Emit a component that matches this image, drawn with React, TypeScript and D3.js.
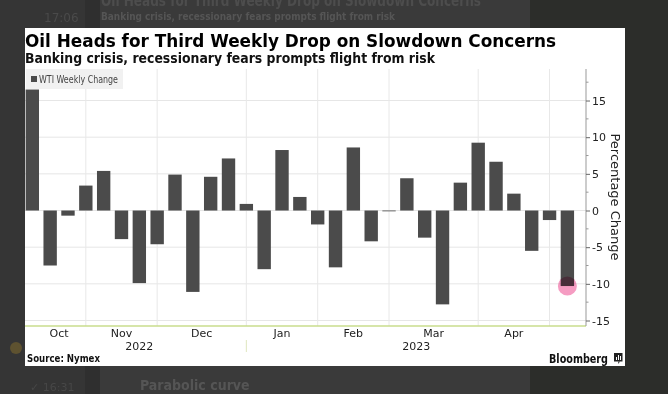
import React, { useEffect, useRef } from 'react';
import * as d3 from 'd3';

// WTI weekly % change, week ending Fridays, Oct 7 2022 .. May 5 2023
const weekEnding = [
  '2022-10-07', '2022-10-14', '2022-10-21', '2022-10-28',
  '2022-11-04', '2022-11-11', '2022-11-18', '2022-11-25',
  '2022-12-02', '2022-12-09', '2022-12-16', '2022-12-23', '2022-12-30',
  '2023-01-06', '2023-01-13', '2023-01-20', '2023-01-27',
  '2023-02-03', '2023-02-10', '2023-02-17', '2023-02-24',
  '2023-03-03', '2023-03-10', '2023-03-17', '2023-03-24', '2023-03-31',
  '2023-04-07', '2023-04-14', '2023-04-21', '2023-04-28',
  '2023-05-05',
];
const weeklyChange = [
  16.5, -7.5, -0.7, 3.4,
  5.4, -3.9, -9.9, -4.6,
  4.9, -11.1, 4.6, 7.1, 0.9,
  -8.0, 8.25, 1.85, -1.9,
  -7.75, 8.6, -4.2, -0.1,
  4.4, -3.7, -12.8, 3.8, 9.25,
  6.65, 2.3, -5.5, -1.3,
  -10.3,
];
const monthStarts = ['2022-11-01', '2022-12-01', '2023-01-01', '2023-02-01', '2023-03-01', '2023-04-01', '2023-05-01'];
const monthNames = ['Oct', 'Nov', 'Dec', 'Jan', 'Feb', 'Mar', 'Apr', 'May'];
const years = ['2022', '2023'];
const yTicks = [-15, -10, -5, 0, 5, 10, 15];

const title = 'Oil Heads for Third Weekly Drop on Slowdown Concerns';
const subtitle = 'Banking crisis, recessionary fears prompts flight from risk';

const App = () => {
  const svgRef = useRef<SVGSVGElement>(null);

  useEffect(() => {
    if (!svgRef.current) return;
    const svg = d3.select(svgRef.current);
    svg.selectAll('*').remove();

    const width = 668;
    const height = 394;
    const font = "'DejaVu Sans', Verdana, sans-serif";
    const condensed = "'DejaVu Sans Condensed', 'DejaVu Sans', sans-serif";

    // --- photographed screen around the chart ---
    svg.append('rect').attr('width', width).attr('height', height).attr('fill', '#353535');
    svg.append('rect').attr('x', 85).attr('width', 15).attr('height', height).attr('fill', '#2f2f2f');
    svg.append('rect').attr('x', 100).attr('width', 430).attr('height', height).attr('fill', '#3a3a3a');
    svg.append('rect').attr('x', 530).attr('width', 138).attr('height', height).attr('fill', '#2c2d2a');
    svg.append('text').attr('x', 101).attr('y', 6).attr('font-family', condensed).attr('font-weight', 'bold')
      .attr('font-size', 16).attr('fill', '#4d4d4d').attr('textLength', 380).attr('lengthAdjust', 'spacingAndGlyphs')
      .text(title);
    svg.append('text').attr('x', 101).attr('y', 20).attr('font-family', condensed).attr('font-weight', 'bold')
      .attr('font-size', 11).attr('fill', '#555').attr('textLength', 294).attr('lengthAdjust', 'spacingAndGlyphs')
      .text(subtitle);
    svg.append('text').attr('x', 44).attr('y', 22).attr('font-family', font).attr('font-size', 12)
      .attr('fill', '#4a4a4a').text('17:06');
    svg.append('text').attr('x', 140).attr('y', 390).attr('font-family', condensed).attr('font-weight', 'bold')
      .attr('font-size', 14).attr('fill', '#555').text('Parabolic curve');
    svg.append('text').attr('x', 30).attr('y', 391).attr('font-family', font).attr('font-size', 11)
      .attr('fill', '#474747').text('✓ 16:31');
    svg.append('circle').attr('cx', 16).attr('cy', 348).attr('r', 6).attr('fill', '#5e5230');

    // --- white chart panel ---
    svg.append('rect').attr('x', 25).attr('y', 28).attr('width', 600).attr('height', 338).attr('fill', '#fff');

    svg.append('text').attr('x', 25).attr('y', 47).attr('font-family', condensed).attr('font-weight', 'bold')
      .attr('font-size', 18).attr('fill', '#000').attr('textLength', 531).attr('lengthAdjust', 'spacingAndGlyphs')
      .text(title);
    svg.append('text').attr('x', 25).attr('y', 62.5).attr('font-family', condensed).attr('font-weight', 'bold')
      .attr('font-size', 13.5).attr('fill', '#111').attr('textLength', 410).attr('lengthAdjust', 'spacingAndGlyphs')
      .text(subtitle);

    const plotLeft = 25;
    const plotRight = 586;
    const plotTop = 69;
    const plotBottom = 326;

    const x = d3.scaleBand<string>()
      .domain(weekEnding)
      .range([23.4, 576.3])
      .paddingInner(0.25)
      .paddingOuter(0.125);
    const bw = x.bandwidth();
    const cx = (d: string) => (x(d) as number) + bw / 2;

    const y = d3.scaleLinear().domain([-15.75, 19.3]).range([plotBottom, plotTop]);

    // horizontal gridlines
    svg.append('g').selectAll('line').data(yTicks).join('line')
      .attr('x1', plotLeft).attr('x2', plotRight)
      .attr('y1', (d) => y(d)).attr('y2', (d) => y(d))
      .attr('stroke', '#e6e6e6').attr('stroke-width', 1);

    // month boundaries: last week ending before the 1st of the month
    const parse = d3.timeParse('%Y-%m-%d');
    const dates = weekEnding.map((d) => parse(d) as Date);
    const boundaryX = monthStarts.map((m) => {
      const t = parse(m) as Date;
      let idx = 0;
      dates.forEach((d, i) => { if (d < t) idx = i; });
      return cx(weekEnding[idx]);
    });

    svg.append('g').selectAll('line').data(boundaryX).join('line')
      .attr('x1', (d) => d).attr('x2', (d) => d)
      .attr('y1', plotTop).attr('y2', plotBottom)
      .attr('stroke', '#e8e8e8').attr('stroke-width', 1);

    // bars
    svg.append('g').selectAll('rect').data(weeklyChange).join('rect')
      .attr('x', (_, i) => x(weekEnding[i]) as number)
      .attr('width', bw)
      .attr('y', (d) => y(Math.max(0, d)))
      .attr('height', (d) => Math.max(0.8, Math.abs(y(d) - y(0))))
      .attr('fill', '#4b4b4b');

    // bottom baseline
    svg.append('line').attr('x1', plotLeft).attr('x2', plotRight).attr('y1', plotBottom).attr('y2', plotBottom)
      .attr('stroke', '#c9dc8c').attr('stroke-width', 1.5);

    // month labels
    const firstC = cx(weekEnding[0]);
    const lastC = cx(weekEnding[weekEnding.length - 1]);
    const edges = [firstC, ...boundaryX, lastC];
    const monthLabels = monthNames.map((name, i) => ({ name, a: edges[i], b: edges[i + 1] }))
      .filter((m) => m.b - m.a > 30);
    svg.append('g').selectAll('text').data(monthLabels).join('text')
      .attr('x', (d) => (d.a + d.b) / 2).attr('y', 337)
      .attr('text-anchor', 'middle').attr('font-family', font).attr('font-size', 11).attr('fill', '#222')
      .text((d) => d.name);

    // years
    const janX = boundaryX[2];
    const yearPos = [(firstC + janX) / 2, (janX + plotRight) / 2];
    svg.append('g').selectAll('text').data(years).join('text')
      .attr('x', (_, i) => yearPos[i]).attr('y', 350)
      .attr('text-anchor', 'middle').attr('font-family', font).attr('font-size', 11).attr('fill', '#222')
      .text((d) => d);
    svg.append('line').attr('x1', janX).attr('x2', janX).attr('y1', 340).attr('y2', 352)
      .attr('stroke', '#dfe6bf').attr('stroke-width', 1);

    // right axis
    const axis = svg.append('g').attr('transform', `translate(${plotRight},0)`);
    axis.call(
      d3.axisRight(y).tickValues(yTicks).tickSize(4).tickPadding(2).tickFormat((d) => String(d))
    );
    axis.select('.domain').attr('stroke', '#999').attr('d', `M0,${plotTop}V${plotBottom}`);
    axis.selectAll('.tick line').attr('stroke', '#666');
    axis.selectAll('.tick text').attr('font-family', font).attr('font-size', 11).attr('fill', '#222');
    const minor = d3.range(-12.5, 18, 5);
    axis.append('g').selectAll('line').data(minor).join('line')
      .attr('x1', 0).attr('x2', 2.5).attr('y1', (d) => y(d)).attr('y2', (d) => y(d))
      .attr('stroke', '#999');

    svg.append('text').attr('transform', 'translate(611,197) rotate(90)')
      .attr('text-anchor', 'middle').attr('font-family', font).attr('font-size', 13).attr('fill', '#222')
      .text('Percentage Change');

    // legend
    svg.append('rect').attr('x', 26).attr('y', 69).attr('width', 97).attr('height', 20).attr('fill', '#f1f1f1');
    svg.append('rect').attr('x', 31).attr('y', 76).attr('width', 6).attr('height', 6).attr('fill', '#4b4b4b');
    svg.append('text').attr('x', 39).attr('y', 83).attr('font-family', condensed).attr('font-size', 10)
      .attr('fill', '#444').attr('textLength', 79).attr('lengthAdjust', 'spacingAndGlyphs').text('WTI Weekly Change');

    // highlight on latest week
    const lastWeek = weekEnding[weekEnding.length - 1];
    svg.append('circle').attr('cx', cx(lastWeek)).attr('cy', y(weeklyChange[weeklyChange.length - 1]))
      .attr('r', 9.5).attr('fill', '#f59cc2').style('mix-blend-mode', 'multiply');

    // footer
    svg.append('text').attr('x', 27).attr('y', 362).attr('font-family', font).attr('font-weight', 'bold')
      .attr('font-size', 10).attr('fill', '#111').attr('textLength', 73).attr('lengthAdjust', 'spacingAndGlyphs')
      .text('Source: Nymex');
    svg.append('text').attr('x', 608).attr('y', 363).attr('text-anchor', 'end').attr('font-family', font)
      .attr('font-weight', 'bold').attr('font-size', 13).attr('fill', '#111')
      .attr('textLength', 59).attr('lengthAdjust', 'spacingAndGlyphs').text('Bloomberg');
    const icon = svg.append('g').attr('transform', 'translate(614,353)');
    icon.append('rect').attr('width', 8.5).attr('height', 8.5).attr('fill', '#222');
    icon.append('path').attr('d', 'M4.25,8.5 L4.25,11 L6,8.5 Z').attr('fill', '#222');
    icon.append('rect').attr('x', 2).attr('y', 4).attr('width', 1).attr('height', 3).attr('fill', '#fff');
    icon.append('rect').attr('x', 4).attr('y', 2).attr('width', 1).attr('height', 5).attr('fill', '#fff');
    icon.append('rect').attr('x', 6).attr('y', 3).attr('width', 1).attr('height', 4).attr('fill', '#fff');
  }, []);

  return (
    <svg ref={svgRef} width={668} height={394} style={{ position: 'absolute', left: 0, top: 0 }}></svg>
  );
};

export default App;
